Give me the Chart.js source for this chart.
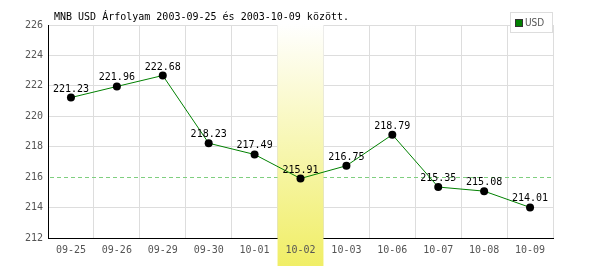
<!DOCTYPE html>
<html lang="hu">
<head>
    <meta charset="UTF-8">
    <title>MNB USD Árfolyam</title>
    <script src="https://cdn.jsdelivr.net/npm/chart.js"></script>
    <style>
        body { margin: 0; background: #fff; }
        #wrap { width: 600px; height: 270px; position: relative; }
    </style>
</head>
<body>
    <div id="wrap"><canvas id="rateChart"></canvas></div>

    <script>
        // adatok
        const days = ['09-25', '09-26', '09-29', '09-30', '10-01', '10-02', '10-03', '10-06', '10-07', '10-08', '10-09'];
        const usdRates = [221.23, 221.96, 222.68, 218.23, 217.49, 215.91, 216.75, 218.79, 215.35, 215.08, 214.01];
        const yMin = 212;
        const yMax = 226;
        const yStep = 2;
        const refLine = 216;          // szaggatott vonal
        const highlightDay = '10-02'; // kiemelt nap
        const titleText = 'MNB USD Árfolyam 2003-09-25 és 2003-10-09 között.';

        const mono = "'DejaVu Sans Mono', monospace";

        const extras = {
            id: 'extras',
            beforeDatasetsDraw(chart) {
                const { ctx, chartArea, scales } = chart;
                const x = scales.x, y = scales.y;
                ctx.save();

                // átlag vonal (a sáv alatt)
                const py = Math.floor(y.getPixelForValue(refLine));
                ctx.fillStyle = '#7fcf7f';
                for (let px = chartArea.left + 2; px < chartArea.right; px += 7) {
                    ctx.fillRect(px, py, Math.min(4, chartArea.right - px), 1);
                }

                const idx = days.indexOf(highlightDay);
                const cx = x.getPixelForValue(idx);
                const half = (x.getPixelForValue(1) - x.getPixelForValue(0)) / 2;
                const top = chartArea.top - 1, bottom = 266;
                const grad = ctx.createLinearGradient(0, top, 0, bottom);
                grad.addColorStop(0, '#ffffff');
                grad.addColorStop(1, '#f0ee66');
                ctx.fillStyle = grad;
                ctx.fillRect(cx - half, top, half * 2, bottom - top);
                ctx.restore();
            },
            afterDatasetsDraw(chart) {
                const { ctx } = chart;
                const meta = chart.getDatasetMeta(0);
                ctx.save();
                ctx.font = '10px ' + mono;
                ctx.fillStyle = '#000';
                ctx.textAlign = 'center';
                ctx.textBaseline = 'alphabetic';
                meta.data.forEach((pt, i) => {
                    ctx.fillText(usdRates[i].toFixed(2), pt.x, pt.y - 6);
                });

                // cím
                ctx.textAlign = 'left';
                ctx.fillText(titleText, 54, 20);

                // jelmagyarázat
                ctx.fillStyle = '#fff';
                ctx.fillRect(510.5, 12.5, 42, 20);
                ctx.strokeStyle = '#dddddd';
                ctx.strokeRect(510.5, 12.5, 42, 20);
                ctx.fillStyle = '#008000';
                ctx.fillRect(515.5, 19.5, 7, 7);
                ctx.strokeStyle = '#333';
                ctx.strokeRect(515.5, 19.5, 7, 7);
                ctx.fillStyle = '#555';
                ctx.font = "10px 'DejaVu Sans Condensed', sans-serif";
                ctx.textBaseline = 'middle';
                ctx.fillText(chart.data.datasets[0].label, 525, 23);
                ctx.restore();
            }
        };

        new Chart(document.getElementById('rateChart'), {
            type: 'line',
            data: {
                labels: days,
                datasets: [{
                    label: 'USD',
                    data: usdRates,
                    borderColor: '#008000',
                    borderWidth: 1,
                    pointRadius: 4,
                    pointBackgroundColor: '#000',
                    pointBorderColor: '#000',
                    pointBorderWidth: 0,
                    tension: 0
                }]
            },
            options: {
                responsive: true,
                maintainAspectRatio: false,
                animation: false,
                layout: { padding: { left: 0, right: 47, top: 25, bottom: 0 } },
                plugins: {
                    legend: { display: false },
                    tooltip: { enabled: false }
                },
                scales: {
                    x: {
                        offset: true,
                        afterFit: s => { s.height = 32; },
                        grid: { offset: true, color: '#dddddd', drawTicks: false },
                        border: { color: '#000', width: 1 },
                        ticks: { z: 1, color: '#555', font: { family: mono, size: 10 }, padding: 6, maxRotation: 0, autoSkip: false }
                    },
                    y: {
                        min: yMin,
                        max: yMax,
                        afterFit: s => { s.width = 48; },
                        grid: {
                            color: c => (c.tick && c.tick.value === refLine) ? 'rgba(0,0,0,0)' : '#dddddd',
                            drawTicks: false
                        },
                        border: { color: '#000', width: 1 },
                        ticks: { stepSize: yStep, color: '#555', font: { family: mono, size: 10 }, padding: 5 }
                    }
                }
            },
            plugins: [extras]
        });
    </script>
</body>
</html>
